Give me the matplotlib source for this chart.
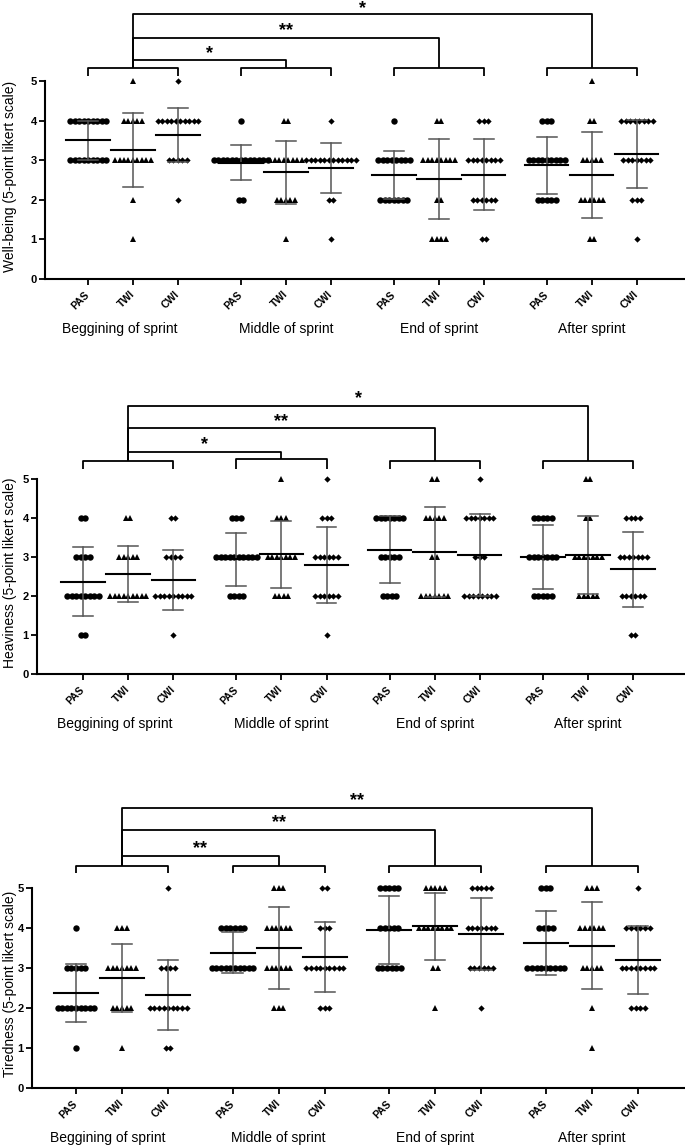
import numpy as np
import matplotlib.pyplot as plt

plt.rcParams['font.family'] = ['Liberation Sans', 'DejaVu Sans']

levels = [5, 4, 3, 2, 1]
arms = ['PAS', 'TWI', 'CWI']
times = ['Beggining of sprint', 'Middle of sprint', 'End of sprint', 'After sprint']

# number of answers at levels 5,4,3,2,1 for each of the 12 groups
wellbeing_counts = [[0, 9, 9, 0, 0], [1, 5, 9, 1, 1], [1, 10, 5, 1, 0],
                    [0, 1, 13, 2, 0], [0, 2, 8, 5, 1], [0, 1, 12, 2, 1],
                    [0, 1, 8, 7, 0], [0, 2, 8, 2, 4], [0, 3, 8, 6, 2],
                    [0, 3, 9, 5, 0], [1, 2, 5, 6, 2], [0, 8, 7, 3, 1]]
wellbeing_mean = [3.5, 3.25, 3.63, 2.94, 2.69, 2.80, 2.63, 2.52, 2.63, 2.87, 2.63, 3.16]
wellbeing_sd = [0.5, 0.93, 0.68, 0.44, 0.79, 0.63, 0.61, 1.01, 0.9, 0.72, 1.09, 0.86]
wellbeing_sig = ['*', '**', '*']

heaviness_counts = [[0, 2, 4, 8, 2], [0, 2, 5, 9, 0], [0, 2, 4, 9, 1],
                    [0, 3, 10, 4, 0], [1, 3, 7, 4, 0], [1, 3, 6, 6, 1],
                    [0, 7, 5, 4, 0], [2, 5, 2, 7, 0], [1, 7, 3, 8, 0],
                    [0, 5, 7, 5, 0], [2, 2, 7, 5, 0], [0, 4, 7, 6, 2]]
heaviness_mean = [2.37, 2.56, 2.42, 2.94, 3.07, 2.80, 3.19, 3.12, 3.05, 3.0, 3.05, 2.68]
heaviness_sd = [0.89, 0.72, 0.77, 0.68, 0.86, 0.97, 0.85, 1.15, 1.04, 0.82, 1.0, 0.95]
heaviness_sig = ['*', '**', '*']

tiredness_counts = [[0, 1, 5, 9, 1], [0, 3, 7, 5, 1], [1, 0, 4, 9, 2],
                    [0, 6, 10, 0, 0], [3, 6, 6, 3, 0], [2, 3, 9, 3, 0],
                    [5, 5, 6, 0, 0], [5, 8, 2, 1, 0], [5, 7, 6, 1, 0],
                    [3, 4, 9, 0, 0], [3, 6, 5, 1, 1], [1, 6, 8, 4, 0]]
tiredness_mean = [2.37, 2.75, 2.32, 3.38, 3.5, 3.27, 3.94, 4.04, 3.84, 3.62, 3.56, 3.21]
tiredness_sd = [0.72, 0.86, 0.88, 0.51, 1.03, 0.87, 0.85, 0.84, 0.9, 0.8, 1.09, 0.85]
tiredness_sig = ['**', '**', '**']

W, H = 685, 1148
fig = plt.figure(figsize=(W / 100, H / 100), dpi=100)

gap = 1.4
pos = [g * (2 + gap) + i for g in range(4) for i in range(3)]
markers = {'PAS': ('o', 4.6), 'TWI': ('^', 4.5), 'CWI': ('D', 3.2)}
step = 0.1


def rect(l, t, r, b):
    return [l / W, 1 - b / H, (r - l) / W, (b - t) / H]


def panel(box, xlim, counts, means, sds, sig, ylabel, br):
    ax = fig.add_axes(rect(*box))
    ax.set_xlim(*xlim)
    ax.set_ylim(0, 5)
    for gi in range(12):
        x0 = pos[gi]
        mk, ms = markers[arms[gi % 3]]
        for lv, c in zip(levels, counts[gi]):
            if c == 0:
                continue
            offs = (np.arange(c) - (c - 1) / 2) * step
            ax.plot(x0 + offs, [lv] * c, ls='none', marker=mk, ms=ms,
                    color='black', mew=0, clip_on=False, zorder=3)
        m, s = means[gi], sds[gi]
        ax.plot([x0, x0], [m - s, m + s], color='#555555', lw=1.1, zorder=4, clip_on=False)
        for yy in (m - s, m + s):
            ax.plot([x0 - 0.22, x0 + 0.22], [yy, yy], color='#555555', lw=1.1, zorder=4, clip_on=False)
        ax.plot([x0 - 0.48, x0 + 0.48], [m, m], color='black', lw=1.5, zorder=5, clip_on=False)

    # significance brackets
    tip, grp, comps, stars = br
    kw = dict(color='black', lw=1.3, clip_on=False, solid_capstyle='butt')
    for g in range(4):
        a, b = pos[3 * g], pos[3 * g + 2]
        ax.plot([a, a, b, b], [tip, grp[g], grp[g], tip], **kw)
    c1 = pos[1]
    for k in range(3):
        ck = pos[3 * (k + 1) + 1]
        ax.plot([c1, c1, ck, ck], [grp[0], comps[k], comps[k], grp[k + 1]], **kw)
        ax.annotate(sig[k], xy=((c1 + ck) / 2, stars[k]), xytext=(0, -3),
                    textcoords='offset pixels', ha='center', va='center',
                    fontsize=13, fontweight='bold', annotation_clip=False)

    ax.spines['top'].set_visible(False)
    ax.spines['right'].set_visible(False)
    ax.spines['left'].set_linewidth(1.5)
    ax.spines['bottom'].set_linewidth(1.5)
    ax.set_yticks(range(6))
    ax.set_yticklabels([str(v) for v in range(6)], fontweight='bold', fontsize=8)
    ax.set_xticks(pos)
    ax.set_xticklabels(arms * 4, rotation=45, ha='right', va='center',
                       rotation_mode='anchor', fontweight='bold', fontsize=7.5)
    ax.tick_params(axis='both', width=1.3, length=4, pad=2)
    ax.tick_params(axis='x', pad=6)
    ax.set_ylabel(ylabel, fontsize=10)
    ax.yaxis.set_label_coords(-(box[0] - 17) / (box[2] - box[0]), 0.52)
    for g in range(4):
        xc = pos[3 * g + 1] - (0.3 if g == 0 else 0.0)
        ax.annotate(times[g], xy=(xc, 0), xycoords='data', xytext=(0, -50),
                    textcoords='offset pixels', ha='center', va='center', fontsize=10,
                    annotation_clip=False)
    return ax


panel((45, 81, 685, 279), (-0.956, 13.27), wellbeing_counts, wellbeing_mean, wellbeing_sd,
      wellbeing_sig, 'Well-being (5-point likert scale)',
      (5.13, [5.33, 5.33, 5.33, 5.33], [5.53, 6.09, 6.69], [5.78, 6.34, 6.9]))
panel((37, 479, 685, 674), (-1.02, 13.35), heaviness_counts, heaviness_mean, heaviness_sd,
      heaviness_sig, 'Heaviness (5-point likert scale)',
      (5.26, [5.46, 5.51, 5.46, 5.46], [5.69, 6.31, 6.87], [5.95, 6.56, 7.13]))
panel((32, 888, 685, 1088), (-0.955, 13.22), tiredness_counts, tiredness_mean, tiredness_sd,
      tiredness_sig, 'Tiredness (5-point likert scale)',
      (5.37, [5.55, 5.55, 5.55, 5.55], [5.8, 6.45, 7.0], [6.05, 6.7, 7.27]))

fig.savefig('out.png', dpi=100)
